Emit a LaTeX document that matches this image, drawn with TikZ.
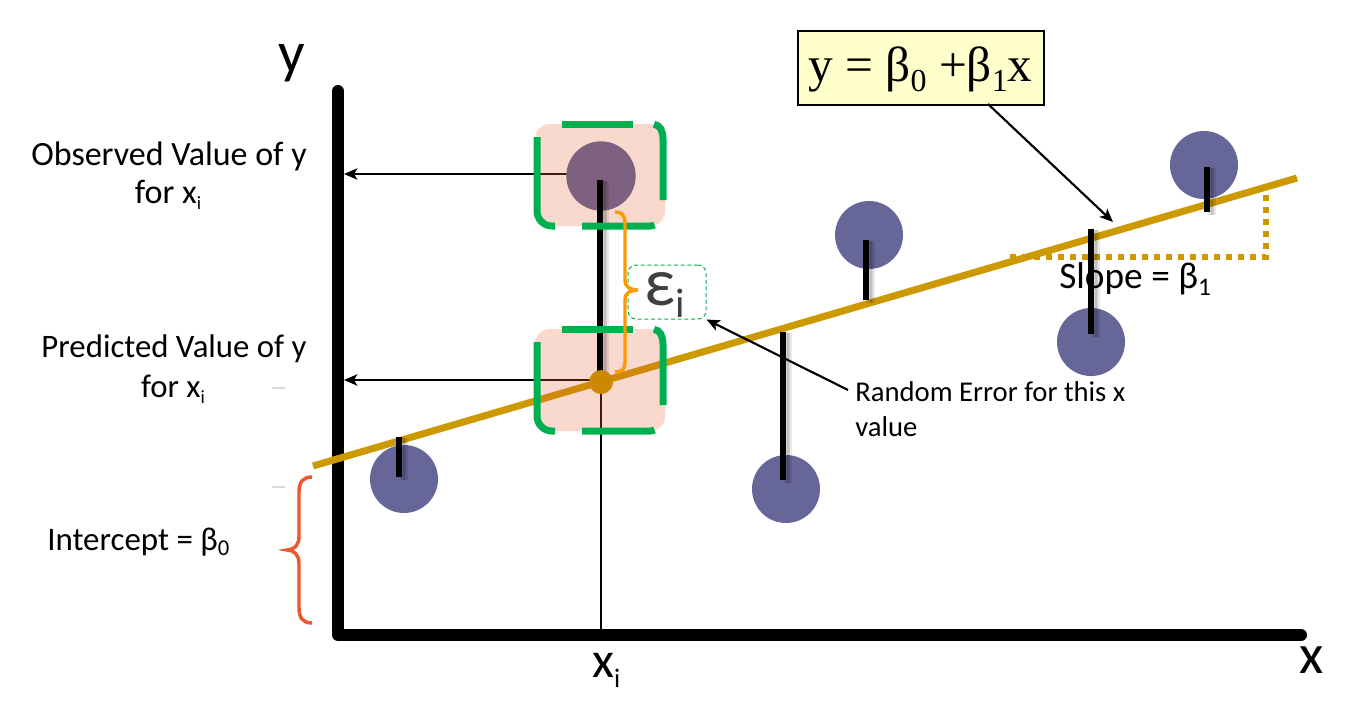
\documentclass[tikz,border=0pt]{standalone}
\usepackage{fontspec}
\setmainfont{Carlito}
\newfontfamily\serifeq{Liberation Serif}
\usetikzlibrary{arrows.meta}
\definecolor{ptc}{RGB}{102,102,153}
\definecolor{ptin}{RGB}{126,96,128}
\definecolor{gold}{RGB}{204,153,0}
\definecolor{goldin}{RGB}{208,137,8}
\definecolor{dotc}{RGB}{204,136,0}
\definecolor{pinkbox}{RGB}{249,217,206}
\definecolor{grn}{RGB}{0,176,80}
\definecolor{ora}{RGB}{255,153,0}
\definecolor{redb}{RGB}{236,88,44}
\definecolor{yel}{RGB}{255,255,204}
\definecolor{epsgrey}{RGB}{64,64,64}
\definecolor{brownin}{RGB}{62,28,18}
\newcommand\lowsub[3]{\raisebox{-#2}{\fontsize{#1}{#1}\selectfont #3}}
\begin{document}
\begin{tikzpicture}[x=0.75pt,y=-0.75pt,
  axisline/.style={line width=9pt,line cap=round,line join=round},
  pointer/.style={line width=1.6pt,-{Stealth[length=10pt,width=8.5pt,inset=2.5pt]}},
  thinline/.style={line width=1.5pt},
  regline/.style={gold,line width=5.25pt},
  datapt/.style={circle,fill=ptc,inner sep=0pt,minimum size=51pt},
  resid/.style={line width=4.5pt},
  residshadow/.style={line width=2.5pt,black,opacity=0.09},
  gdash/.style={grn,line width=5.25pt},
  lbl/.style={inner sep=0pt,font=\fontsize{25.5}{30}\selectfont},
  lblp/.style={inner sep=0pt,font=\fontsize{24.6}{30}\selectfont},
  tick/.style={black!15,line width=1.1pt},
]
\useasboundingbox (0,0) rectangle (1360,726);

% faint ticks
\draw[tick] (272,388) -- (285,388);
\draw[tick] (272,487) -- (285,487);

% axes
\coordinate (ytop) at (338,91);
\coordinate (orig) at (338,635);
\coordinate (xend) at (1301,635);
\draw[axisline] (ytop) -- (orig) -- (xend);

% named points
\coordinate (obsS) at (600,174);
\coordinate (obsE) at (344,174);
\coordinate (predS) at (600,380);
\coordinate (predE) at (344,380);
\coordinate (xiTop) at (601,382);
\coordinate (xiBot) at (601,630);
\coordinate (rl0) at (313,466);
\coordinate (rl1) at (1297,178);

% thin pointers
\draw[pointer] (obsS) -- (obsE);
\draw[pointer] (predS) -- (predE);
\draw[thinline] (xiTop) -- (xiBot);

% regression line
\draw[regline] (rl0) -- (rl1);

% data points
\node[datapt] (p1) at (404,479) {};
\node[datapt] (p2) at (786,489) {};
\node[datapt] (p3) at (869,235) {};
\node[datapt] (p4) at (1091,342) {};
\node[datapt] (p5) at (1204,165) {};

% pink boxes
\foreach \dy in {0,205} {
  \fill[pinkbox,rounded corners=11pt,shift={(0,\dy)}] (535,124) rectangle (665,226);
}
% inside-box tinted copies
\foreach \dy in {0,205} {
  \begin{scope}
    \clip[rounded corners=11pt,shift={(0,\dy)}] (535,124) rectangle (665,226);
    \draw[thinline,brownin] (obsS) -- (obsE);
    \draw[thinline,brownin] (predS) -- (predE);
    \draw[thinline,brownin] (xiTop) -- (xiBot);
    \draw[line width=5.25pt,goldin] (rl0) -- (rl1);
  \end{scope}
}
\node[datapt,fill=ptin,minimum size=52pt] (pobs) at (601,176) {};

% slope triangle and label
\coordinate (sl0) at (1010,257);
\coordinate (sl1) at (1266,257);
\coordinate (sl2) at (1266,190);
\draw[gold,line width=4.1pt,dash pattern=on 4.5pt off 4.5pt] (sl0) -- (sl1) -- (sl2);
\node[inner sep=0pt,anchor=base west,font=\fontsize{28}{32}\selectfont] (slope) at (1059,288) {Slope = β\lowsub{19pt}{5.5pt}{1}};

% residual lines with soft shadows
\foreach \xx/\ya/\yb in {399/437/477, 600/180/382, 783/332/480, 866/240/300, 1091/229/334, 1207/167/212} {
  \coordinate (ra) at (\xx,\ya);
  \coordinate (rb) at (\xx,\yb);
  \foreach \s in {2.2,3.2,4.2,5.2} {
    \draw[residshadow] ([xshift=\s pt,yshift=-1pt]ra) -- ([xshift=\s pt,yshift=-2pt]rb);
  }
  \draw[resid] (ra) -- (rb);
}

% predicted dot
\node[circle,fill=dotc,inner sep=0pt,minimum size=18pt] (pdot) at (601,382) {};

% green dashed frames
\foreach \dy in {0,205} {
  \begin{scope}[shift={(0,\dy)}]
    \draw[gdash] (562,124) -- (633,124);
    \draw[gdash] (654,124.3) .. controls (660,125) and (663,131) .. (663,139) -- (663,200);
    \draw[gdash] (582,226) -- (650,226) .. controls (652,226) and (653.5,225.5) .. (654.5,225);
    \draw[gdash] (537,137) -- (537,211) .. controls (537,219.3) and (543.7,226) .. (552,226) -- (555,226);
  \end{scope}
}

% epsilon box and brace
\node[draw=grn,rounded corners=6pt,line width=0.75pt,dash pattern=on 3pt off 2pt,inner sep=0pt,minimum width=58.5pt,minimum height=40.5pt] (epsbox) at (667,292) {};
\draw[ora,line width=2.6pt] (615,212) .. controls (622,212) and (625,215) .. (625,224) -- (625,280) .. controls (625,287) and (630,290) .. (638,290) .. controls (630,290) and (625,293) .. (625,300) -- (625,362) .. controls (625,369) and (622,372) .. (615,372);
\node[inner sep=0pt,anchor=base west,text=epsgrey,font=\fontsize{51}{56}\selectfont] (eps) at (644,305) {ε\lowsub{31pt}{9.5pt}{i}};

% intercept brace
\draw[redb,line width=2.6pt] (312,477) .. controls (303,477) and (299,482) .. (299,492) -- (299,537) .. controls (299,545) and (294,550) .. (287,550) .. controls (294,550) and (299,555) .. (299,563) -- (299,608) .. controls (299,618) and (303,623) .. (312,623);

% formula
\node[draw=black,fill=yel,line width=1.75pt,inner sep=0pt,minimum width=184.5pt,minimum height=55.5pt] (fbox) at (921,68) {};
\node[inner sep=0pt,anchor=base,font=\serifeq\fontsize{37}{40}\selectfont] (ftext) at (920.5,81) {y = β\lowsub{24pt}{7.5pt}{0} +β\lowsub{24pt}{7.5pt}{1}x};
\coordinate (fS) at (988,104);
\coordinate (fT) at (1113,222);
\draw[pointer] (fS) -- (fT);

% random error
\node[inner sep=0pt,anchor=base west,font=\fontsize{21.5}{26}\selectfont] (rnd1) at (855,401) {Random Error for this x};
\node[inner sep=0pt,anchor=base west,font=\fontsize{21.5}{26}\selectfont] (rnd2) at (855,436) {value};
\coordinate (rS) at (848,390);
\draw[pointer] (rS) -- (epsbox.south east);

% labels
\node[lbl,anchor=base] (obs1) at (169,165) {Observed Value of y};
\node[lbl,anchor=base] (obs2) at (168,203) {for x\lowsub{14pt}{5pt}{i}};
\node[lblp,anchor=base] (pred1) at (174,357) {Predicted Value of y};
\node[lblp,anchor=base] (pred2) at (173,397) {for x\lowsub{14pt}{5pt}{i}};
\node[lbl,anchor=base west,font=\fontsize{24.7}{30}\selectfont] (icpt) at (47,550) {Intercept = β\lowsub{17pt}{4pt}{0}};
\node[inner sep=0pt,anchor=base,font=\fontsize{44}{48}\selectfont] (ylab) at (292,72) {y};
\node[inner sep=0pt,anchor=base,font=\fontsize{42}{46}\selectfont] (xlab) at (1312,673) {x};
\node[inner sep=0pt,anchor=base west,font=\fontsize{38}{42}\selectfont] (xilab) at (592,677) {x\lowsub{20pt}{8pt}{i}};
\end{tikzpicture}
\end{document}
